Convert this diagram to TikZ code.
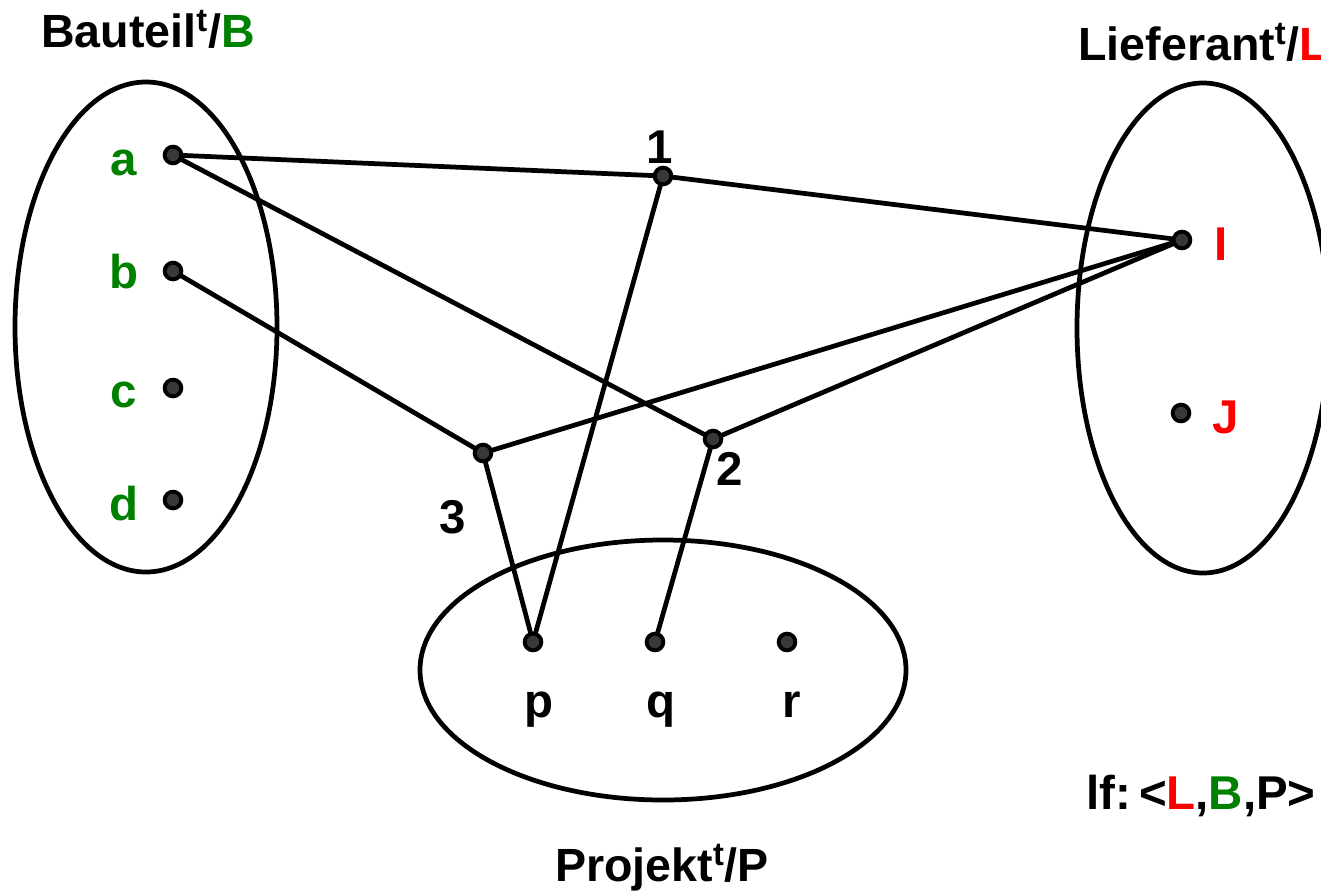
\documentclass[tikz,border=0pt]{standalone}
\usepackage{fontspec}
\setmainfont{Liberation Sans}
\usetikzlibrary{backgrounds}
\definecolor{bgreen}{RGB}{0,128,0}
\begin{document}
\begin{tikzpicture}[x=0.02cm,y=-0.02cm,
    pt/.style={circle,draw=black,fill=black!78,line width=2.2pt,inner sep=0pt,minimum size=9.5pt},
    lbl/.style={font=\fontsize{27}{30}\selectfont\bfseries,inner sep=0pt,anchor=base},
    ttl/.style={font=\fontsize{26.5}{30}\selectfont\bfseries,inner sep=0pt,anchor=base},
    edge/.style={line width=2.7pt},
    set/.style={line width=2.7pt}]
      \useasboundingbox (0,0) rectangle (1321,893);
      % the three sets
      \draw[set] (146,327) ellipse [x radius=131,y radius=245];
      \draw[set] (1203,328) ellipse [x radius=126,y radius=245];
      \draw[set] (663,670) ellipse [x radius=243,y radius=130];
      \node[ttl] (tB) at (148,47) {Bauteil\textsuperscript{t}/\textcolor{bgreen}{B}};
      \node[ttl,anchor=base west] (tL) at (1078,60) {Lieferant\textsuperscript{t}/\textcolor{red}{L}};
      \node[ttl] (tP) at (662,881) {Projekt\textsuperscript{t}/P};
      \node[lbl,anchor=base west] (lf) at (1086,809) {lf:\,<\textcolor{red}{L},\textcolor{bgreen}{B},P>};
      % elements
      \foreach \n/\y/\yl in {a/155/175,b/271/288,c/388/407,d/500/520} {%
        \node[pt] (\n) at (173,\y) {};
        \node[lbl,text=bgreen] (l\n) at (124,\yl) {\n};
      }
      \node[pt] (I) at (1182,240) {};
      \node[lbl,text=red] (lI) at (1221,260) {I};
      \node[pt] (J) at (1181,413) {};
      \node[lbl,text=red] (lJ) at (1226,433) {J};
      \foreach \n/\x/\xl in {p/533/539,q/655/661,r/787/792} {%
        \node[pt] (\n) at (\x,642) {};
        \node[lbl] (l\n) at (\xl,717) {\n};
      }
      % relationship tuples
      \node[pt] (t1) at (663,176) {};
      \node[lbl] (l1) at (660,163) {1};
      \node[pt] (t2) at (713,439) {};
      \node[lbl] (l2) at (730,485) {2};
      \node[pt] (t3) at (483,453) {};
      \node[lbl] (l3) at (453,533) {3};
      \begin{pgfonlayer}{background}
        \draw[edge] (a.center) -- (t1.center) -- (I.center);
        \draw[edge] (t1.center) -- (p.center);
        \draw[edge] (a.center) -- (t2.center) -- (I.center);
        \draw[edge] (t2.center) -- (q.center);
        \draw[edge] (b.center) -- (t3.center) -- (I.center);
        \draw[edge] (t3.center) -- (p.center);
      \end{pgfonlayer}
\end{tikzpicture}
\end{document}
